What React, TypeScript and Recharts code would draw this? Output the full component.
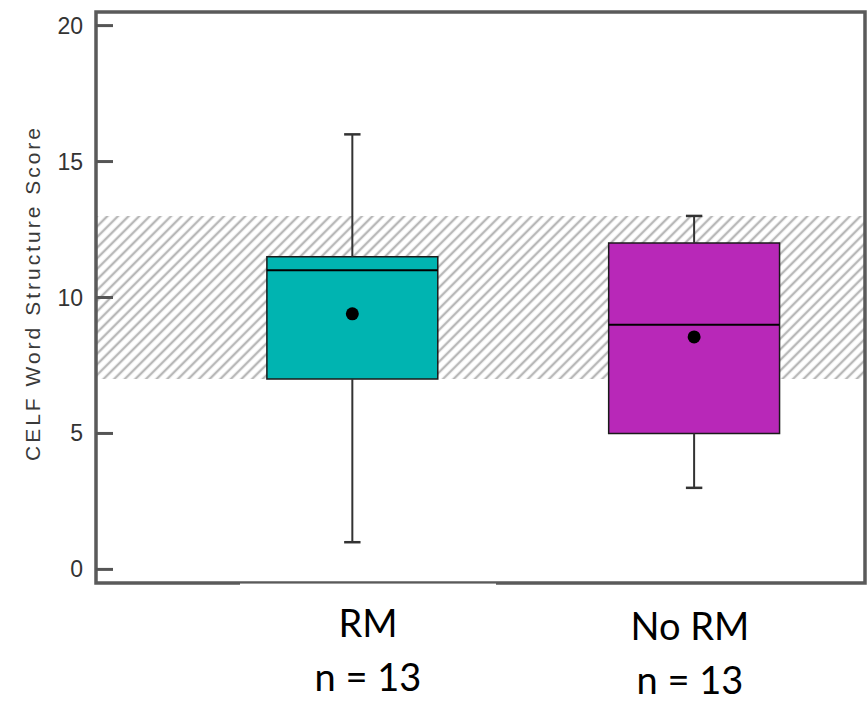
import React from 'react';
import {
  ComposedChart,
  XAxis,
  YAxis,
  ReferenceArea,
  ReferenceLine,
  Scatter,
} from 'recharts';

// ---- data ----
const groups = ['RM', 'No RM'];
const groupCounts = [13, 13];
const groupX = [1, 2];
const whiskerLow = [1, 3];
const q1 = [7, 5];
const median = [11, 9];
const q3 = [11.5, 12];
const whiskerHigh = [16, 13];
const means = [9.4, 8.55];
const normalBand = [7, 13];
const yTicks = [0, 5, 10, 15, 20];
const yLabel = 'CELF Word Structure Score';

// ---- style ----
const boxColors = ['#00b4b1', '#b828b8'];
const labelX = [368, 690];
const BOX_HALF = 0.25;
const CAP_HALF = 0.024;
const X_DOMAIN: [number, number] = [0.25, 2.5];
const Y_DOMAIN: [number, number] = [-0.5, 20.5];

const meanData = groupX.map((x, i) => ({ x, y: means[i] }));

const YTick = (props: any) => {
  const { x, y, payload } = props;
  return (
    <g>
      <line x1={x} y1={y} x2={x + 17} y2={y} stroke="#555" strokeWidth={3} />
      <text
        x={x - 13}
        y={y}
        textAnchor="end"
        dominantBaseline="central"
        fontFamily="'Liberation Sans', Arial, sans-serif"
        fontSize={23}
        fill="#333"
      >
        {payload.value}
      </text>
    </g>
  );
};

export default function App() {
  return (
    <div style={{ position: 'absolute', left: 0, top: 0, width: 868, height: 701, background: '#fff' }}>
      <svg width={0} height={0} style={{ position: 'absolute' }}>
        <defs>
          <pattern id="hatch" patternUnits="userSpaceOnUse" width={7.5} height={7.5} patternTransform="rotate(45)">
            <line x1={3.75} y1={0} x2={3.75} y2={7.5} stroke="#b8b8b8" strokeWidth={2.4} />
          </pattern>
        </defs>
      </svg>
      <ComposedChart
        width={868}
        height={701}
        margin={{ top: 12, right: 3, bottom: 118, left: 0 }}
      >
        <XAxis type="number" dataKey="x" domain={X_DOMAIN} hide height={0} allowDataOverflow />
        <YAxis
          type="number"
          dataKey="y"
          domain={Y_DOMAIN}
          ticks={yTicks}
          width={96}
          tickSize={0}
          tickMargin={0}
          tickLine={false}
          axisLine={false}
          tick={<YTick />}
          allowDataOverflow
        />
        <ReferenceArea
          x1={X_DOMAIN[0]}
          x2={X_DOMAIN[1]}
          y1={normalBand[0]}
          y2={normalBand[1]}
          fill="url(#hatch)"
          fillOpacity={1}
          stroke="none"
        />
        {groupX.map((gx, i) => (
          <ReferenceLine
            key={'wu' + i}
            segment={[{ x: gx, y: q3[i] }, { x: gx, y: whiskerHigh[i] }]}
            stroke="#333"
            strokeWidth={2}
          />
        ))}
        {groupX.map((gx, i) => (
          <ReferenceLine
            key={'wl' + i}
            segment={[{ x: gx, y: whiskerLow[i] }, { x: gx, y: q1[i] }]}
            stroke="#333"
            strokeWidth={2}
          />
        ))}
        {groupX.map((gx, i) => (
          <ReferenceLine
            key={'cu' + i}
            segment={[{ x: gx - CAP_HALF, y: whiskerHigh[i] }, { x: gx + CAP_HALF, y: whiskerHigh[i] }]}
            stroke="#333"
            strokeWidth={2.5}
          />
        ))}
        {groupX.map((gx, i) => (
          <ReferenceLine
            key={'cl' + i}
            segment={[{ x: gx - CAP_HALF, y: whiskerLow[i] }, { x: gx + CAP_HALF, y: whiskerLow[i] }]}
            stroke="#333"
            strokeWidth={2.5}
          />
        ))}
        {groupX.map((gx, i) => (
          <ReferenceArea
            key={'box' + i}
            x1={gx - BOX_HALF}
            x2={gx + BOX_HALF}
            y1={q1[i]}
            y2={q3[i]}
            fill={boxColors[i]}
            fillOpacity={1}
            stroke="#1a1a1a"
            strokeWidth={1.5}
          />
        ))}
        {groupX.map((gx, i) => (
          <ReferenceLine
            key={'med' + i}
            segment={[{ x: gx - BOX_HALF, y: median[i] }, { x: gx + BOX_HALF, y: median[i] }]}
            stroke="#000"
            strokeWidth={2}
          />
        ))}
        <Scatter
          data={meanData}
          dataKey="y"
          isAnimationActive={false}
          shape={(p: any) => <circle cx={p.cx} cy={p.cy} r={6.5} fill="#000" />}
        />
        <ReferenceArea
          x1={X_DOMAIN[0]}
          x2={X_DOMAIN[1]}
          y1={Y_DOMAIN[0]}
          y2={Y_DOMAIN[1]}
          fill="none"
          stroke="#5a5a5a"
          strokeWidth={3.5}
        />
      </ComposedChart>
      <svg
        width={868}
        height={701}
        style={{ position: 'absolute', left: 0, top: 0, pointerEvents: 'none' }}
      >
        <rect x={240} y={583.6} width={256} height={3} fill="#fff" />
        <text
          transform="translate(40, 293) rotate(-90)"
          textAnchor="middle"
          fontFamily="'Liberation Sans', Arial, sans-serif"
          fontSize={21}
          letterSpacing={3}
          fill="#3a3a3a"
        >
          {yLabel}
        </text>
        {groups.map((g, i) => (
          <g key={g}>
            <text
              x={labelX[i]}
              y={637 + i * 3}
              textAnchor="middle"
              fontFamily="Lato, 'Open Sans', sans-serif"
              fontSize={38}
              fill="#000"
            >
              {g}
            </text>
            <text
              x={labelX[i]}
              y={691 + i * 3}
              textAnchor="middle"
              fontFamily="Lato, 'Open Sans', sans-serif"
              fontSize={38}
              fill="#000"
            >
              {'n = ' + groupCounts[i]}
            </text>
          </g>
        ))}
      </svg>
    </div>
  );
}
